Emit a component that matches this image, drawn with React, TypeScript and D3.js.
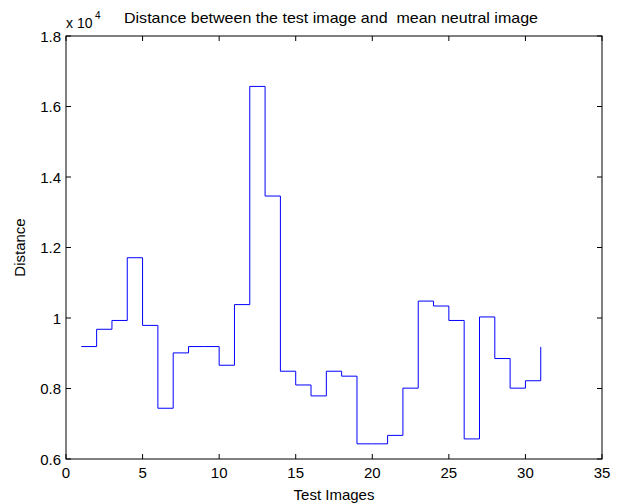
import React from "react";
import * as d3 from "d3";

const xs: number[] = Array.from({ length: 31 }, (_, i) => i + 1);
const distances: number[] = [
  0.919, 0.968, 0.993, 1.171, 0.979, 0.744, 0.901, 0.919, 0.919, 0.866,
  1.038, 1.657, 1.346, 0.849, 0.81, 0.779, 0.849, 0.835, 0.643, 0.643,
  0.667, 0.801, 1.048, 1.034, 0.993, 0.657, 1.003, 0.885, 0.801, 0.822,
  0.918,
];
const xTicks: number[] = [0, 5, 10, 15, 20, 25, 30, 35];
const yTicks: number[] = [0.6, 0.8, 1.0, 1.2, 1.4, 1.6, 1.8];
const title = "Distance between the test image and\u00a0 mean neutral image";
const xLabel = "Test Images";
const yLabel = "Distance";

export default function App() {
  const W = 620, H = 503;
  const L = 66, R = 602, T = 36, B = 459;
  const x = d3.scaleLinear().domain([0, 35]).range([L, R]);
  const y = d3.scaleLinear().domain([0.6, 1.8]).range([B, T]);
  const pts: [number, number][] = xs.map((v, i) => [v, distances[i]]);
  const line = d3
    .line<[number, number]>()
    .x((d) => x(d[0]))
    .y((d) => y(d[1]))
    .curve(d3.curveStepAfter);
  const font = "Liberation Sans, Arial, sans-serif";
  const tl = 5;
  return (
    <svg
      width={W}
      height={H}
      style={{ position: "absolute", left: 0, top: 0, background: "#fff" }}
    >
      <rect x={0} y={0} width={W} height={H} fill="#fff" />
      <path d={line(pts) || ""} fill="none" stroke="#0000ff" strokeWidth={1} />
      <rect x={L} y={T} width={R - L} height={B - T} fill="none" stroke="#000" strokeWidth={1} />
      {xTicks.map((t) => (
        <g key={"x" + t}>
          <line x1={x(t)} x2={x(t)} y1={B} y2={B - tl} stroke="#000" />
          <line x1={x(t)} x2={x(t)} y1={T} y2={T + tl} stroke="#000" />
          <text x={x(t)} y={B + 19} textAnchor="middle" fontFamily={font} fontSize={15}>
            {t}
          </text>
        </g>
      ))}
      {yTicks.map((t) => (
        <g key={"y" + t}>
          <line x1={L} x2={L + tl} y1={y(t)} y2={y(t)} stroke="#000" />
          <line x1={R} x2={R - tl} y1={y(t)} y2={y(t)} stroke="#000" />
          <text x={L - 5} y={y(t) + 5.5} textAnchor="end" fontFamily={font} fontSize={15}>
            {d3.format("~g")(+t.toFixed(1))}
          </text>
        </g>
      ))}
      <text x={L} y={28} fontFamily={font} fontSize={14}>
        x 10
      </text>
      <text x={L + 29} y={19} fontFamily={font} fontSize={10}>
        4
      </text>
      <text
        x={124}
        y={23}
        fontFamily={font}
        fontSize={14.5}
        textLength={414}
        lengthAdjust="spacingAndGlyphs"
      >
        {title}
      </text>
      <text x={(L + R) / 2} y={500} textAnchor="middle" fontFamily={font} fontSize={15}>
        {xLabel}
      </text>
      <text
        transform={`translate(25,${(T + B) / 2}) rotate(-90)`}
        textAnchor="middle"
        fontFamily={font}
        fontSize={15}
      >
        {yLabel}
      </text>
    </svg>
  );
}
